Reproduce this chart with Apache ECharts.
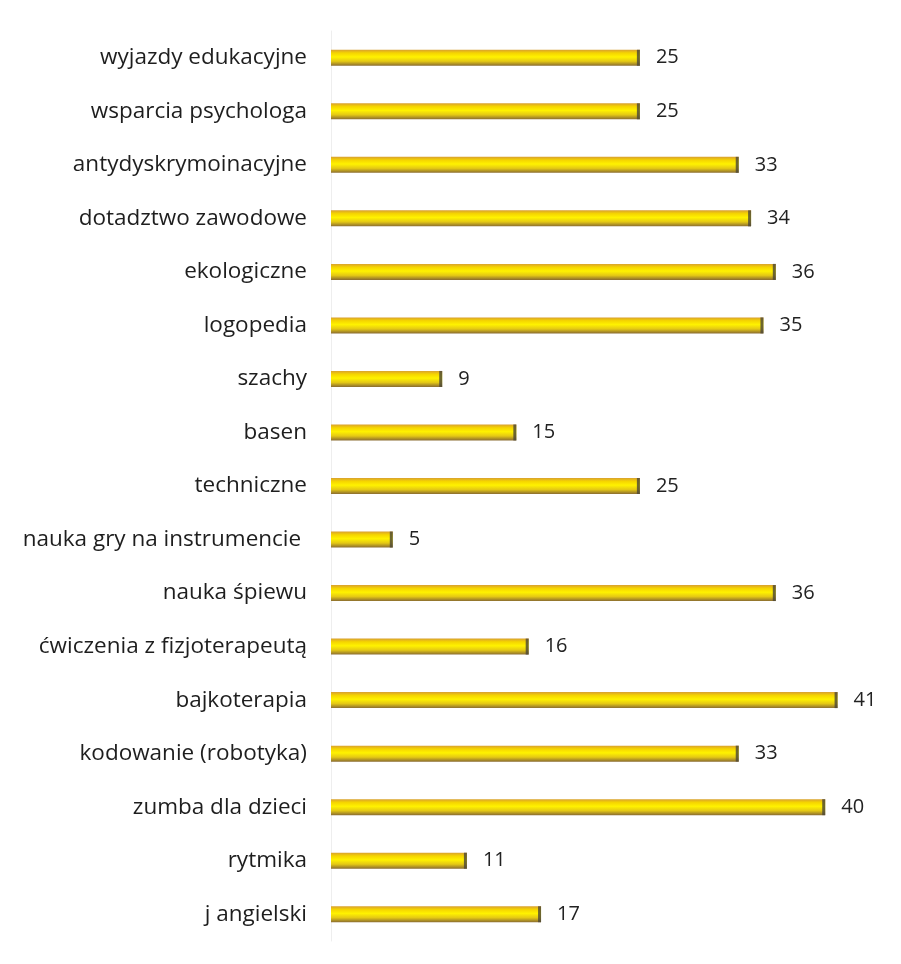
<!DOCTYPE html>
<html><head><meta charset="utf-8">
<script src="https://cdn.jsdelivr.net/npm/echarts@6/dist/echarts.min.js"></script>
<style>html,body{margin:0;padding:0;background:#fff}#c{width:901px;height:964px}</style>
</head><body><div id="c"></div>
<script>
const categories = ["wyjazdy edukacyjne","wsparcia psychologa","antydyskrymoinacyjne","dotadztwo zawodowe","ekologiczne","logopedia","szachy","basen","techniczne","nauka gry na instrumencie ","nauka śpiewu","ćwiczenia z fizjoterapeutą","bajkoterapia","kodowanie (robotyka)","zumba dla dzieci","rytmika","j angielski"];
const values = [25,25,33,34,36,35,9,15,25,5,36,16,41,33,40,11,17];

const chart = echarts.init(document.getElementById('c'));
const barGrad = new echarts.graphic.LinearGradient(0,0,0,1,[
  {offset:0,color:'#d8a030'},
  {offset:0.2,color:'#f5d400'},
  {offset:0.45,color:'#fff200'},
  {offset:0.72,color:'#e4c814'},
  {offset:1,color:'#8a6c30'}
]);
chart.setOption({
  animation:false,
  backgroundColor:'#fff',
  grid:{left:331,right:14,top:31,bottom:23},
  xAxis:{type:'value',min:0,max:45,show:false},
  yAxis:{type:'category',data:categories,inverse:true,
    axisLine:{show:true,lineStyle:{color:'#eeeeee',width:1}},
    axisTick:{show:false},
    axisLabel:{margin:24,fontSize:22.5,color:'#1e1e1e',fontFamily:'Open Sans'}},
  series:[
    {type:'bar',data:values,barWidth:16,
     itemStyle:{color:barGrad},
     label:{show:true,position:'right',distance:16,fontSize:20,color:'#222',fontFamily:'Open Sans'}},
    {type:'scatter',data:values.map((v,i)=>[v,i]),symbol:'rect',symbolSize:[3,16],symbolOffset:[-1.5,0],
     itemStyle:{color:'#4a4638'},z:5,silent:true}
  ]
});
</script></body></html>
